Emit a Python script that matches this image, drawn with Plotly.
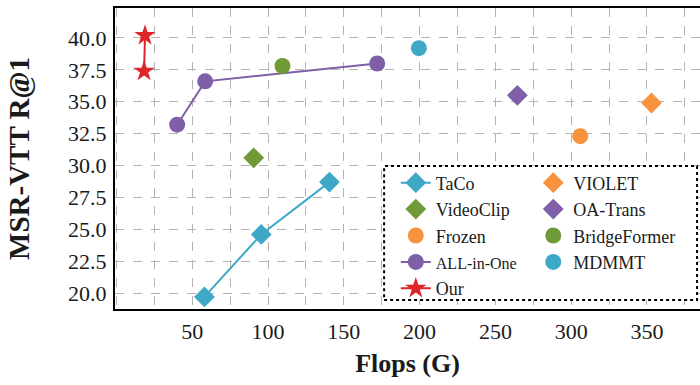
import plotly.graph_objects as go

# ---- data ----
taco_x = [58, 95.5, 140.5]
taco_y = [19.7, 24.6, 28.7]
allinone_x = [40, 58.5, 172]
allinone_y = [33.2, 36.6, 38.0]
our_x = [18.8, 18.2]
our_y = [40.2, 37.4]
videoclip_x = [90.5]
videoclip_y = [30.6]
frozen_x = [306]
frozen_y = [32.3]
violet_x = [353]
violet_y = [34.9]
oatrans_x = [264.5]
oatrans_y = [35.5]
bridgeformer_x = [109.5]
bridgeformer_y = [37.8]
mdmmt_x = [199.5]
mdmmt_y = [39.2]

x_tickvals = [50, 100, 150, 200, 250, 300, 350]
y_tickvals = [20.0, 22.5, 25.0, 27.5, 30.0, 32.5, 35.0, 37.5, 40.0]

CYAN = "#3ea8c7"
GREEN = "#6f9a37"
ORANGE = "#f7923f"
PURPLE = "#7e5fa8"
RED = "#e0242c"
FONT = "Liberation Serif"

fig = go.Figure()

fig.add_trace(go.Scatter(x=taco_x, y=taco_y, name="TaCo", mode="lines+markers",
                         line=dict(color=CYAN, width=2),
                         marker=dict(symbol="diamond", size=16, color=CYAN),
                         legend="legend"))
fig.add_trace(go.Scatter(x=videoclip_x, y=videoclip_y, name="VideoClip", mode="markers",
                         marker=dict(symbol="diamond", size=16, color=GREEN),
                         legend="legend"))
fig.add_trace(go.Scatter(x=frozen_x, y=frozen_y, name="Frozen", mode="markers",
                         marker=dict(symbol="circle", size=16, color=ORANGE),
                         legend="legend"))
fig.add_trace(go.Scatter(x=allinone_x, y=allinone_y,
                         name='<span style="font-size:16px">ALL-in-One</span>',
                         mode="lines+markers",
                         line=dict(color=PURPLE, width=2),
                         marker=dict(symbol="circle", size=16, color=PURPLE),
                         legend="legend"))
fig.add_trace(go.Scatter(x=our_x, y=our_y, name="Our", mode="lines+markers",
                         line=dict(color=RED, width=2),
                         marker=dict(symbol="star", size=16, color=RED),
                         legend="legend"))
fig.add_trace(go.Scatter(x=violet_x, y=violet_y, name="VIOLET", mode="markers",
                         marker=dict(symbol="diamond", size=16, color=ORANGE),
                         legend="legend2"))
fig.add_trace(go.Scatter(x=oatrans_x, y=oatrans_y, name="OA-Trans", mode="markers",
                         marker=dict(symbol="diamond", size=16, color=PURPLE),
                         legend="legend2"))
fig.add_trace(go.Scatter(x=bridgeformer_x, y=bridgeformer_y, name="BridgeFormer", mode="markers",
                         marker=dict(symbol="circle", size=16, color=GREEN),
                         legend="legend2"))
fig.add_trace(go.Scatter(x=mdmmt_x, y=mdmmt_y, name="MDMMT", mode="markers",
                         marker=dict(symbol="circle", size=16, color=CYAN),
                         legend="legend2"))

grid_color = "#b4b4b4"
legend_font = dict(family=FONT, size=18, color="#1a1a1a")
fig.update_layout(
    width=700, height=385,
    margin=dict(l=115, r=0, t=8, b=76, autoexpand=False),
    paper_bgcolor="white", plot_bgcolor="white",
    font=dict(family=FONT, size=22, color="#1a1a1a"),
    xaxis=dict(
        range=[-1, 385], automargin=False,
        tickvals=x_tickvals, ticktext=[str(v) for v in x_tickvals],
        showgrid=True, gridcolor=grid_color, griddash="dash", gridwidth=1,
        minor=dict(dtick=25, tick0=0, showgrid=True, gridcolor=grid_color,
                   griddash="dash", gridwidth=1),
        showline=True, linecolor="black", linewidth=2, mirror=True,
        ticks="", ticklabelstandoff=2, zeroline=False,
        title=dict(text="<b>Flops (G)</b>", font=dict(size=26, family=FONT), standoff=10),
    ),
    yaxis=dict(
        range=[18.75, 42.35], automargin=False,
        tickvals=y_tickvals, ticktext=[f"{v:.1f}" for v in y_tickvals],
        showgrid=True, gridcolor=grid_color, griddash="dash", gridwidth=1,
        showline=True, linecolor="black", linewidth=2, mirror=False,
        ticks="", ticklabelstandoff=2, zeroline=False,
        title=dict(text="<b>MSR-VTT R@1</b>", font=dict(size=29, family=FONT), standoff=30),
    ),
    legend=dict(x=0.48, y=0.48, xanchor="left", yanchor="top",
                bgcolor="rgba(0,0,0,0)", borderwidth=0,
                font=legend_font, tracegroupgap=0),
    legend2=dict(x=0.715, y=0.48, xanchor="left", yanchor="top",
                 bgcolor="rgba(0,0,0,0)", borderwidth=0,
                 font=legend_font, tracegroupgap=0),
    shapes=[dict(type="rect", xref="paper", yref="paper",
                 x0=0.46, x1=0.995, y0=0.03, y1=0.475,
                 line=dict(color="black", width=2, dash="dot"),
                 fillcolor="white", layer="above")],
    showlegend=True,
)

fig.write_html("out.html", config={"displayModeBar": False},
               post_script="document.body.style.margin='0';document.body.style.overflow='hidden';")
